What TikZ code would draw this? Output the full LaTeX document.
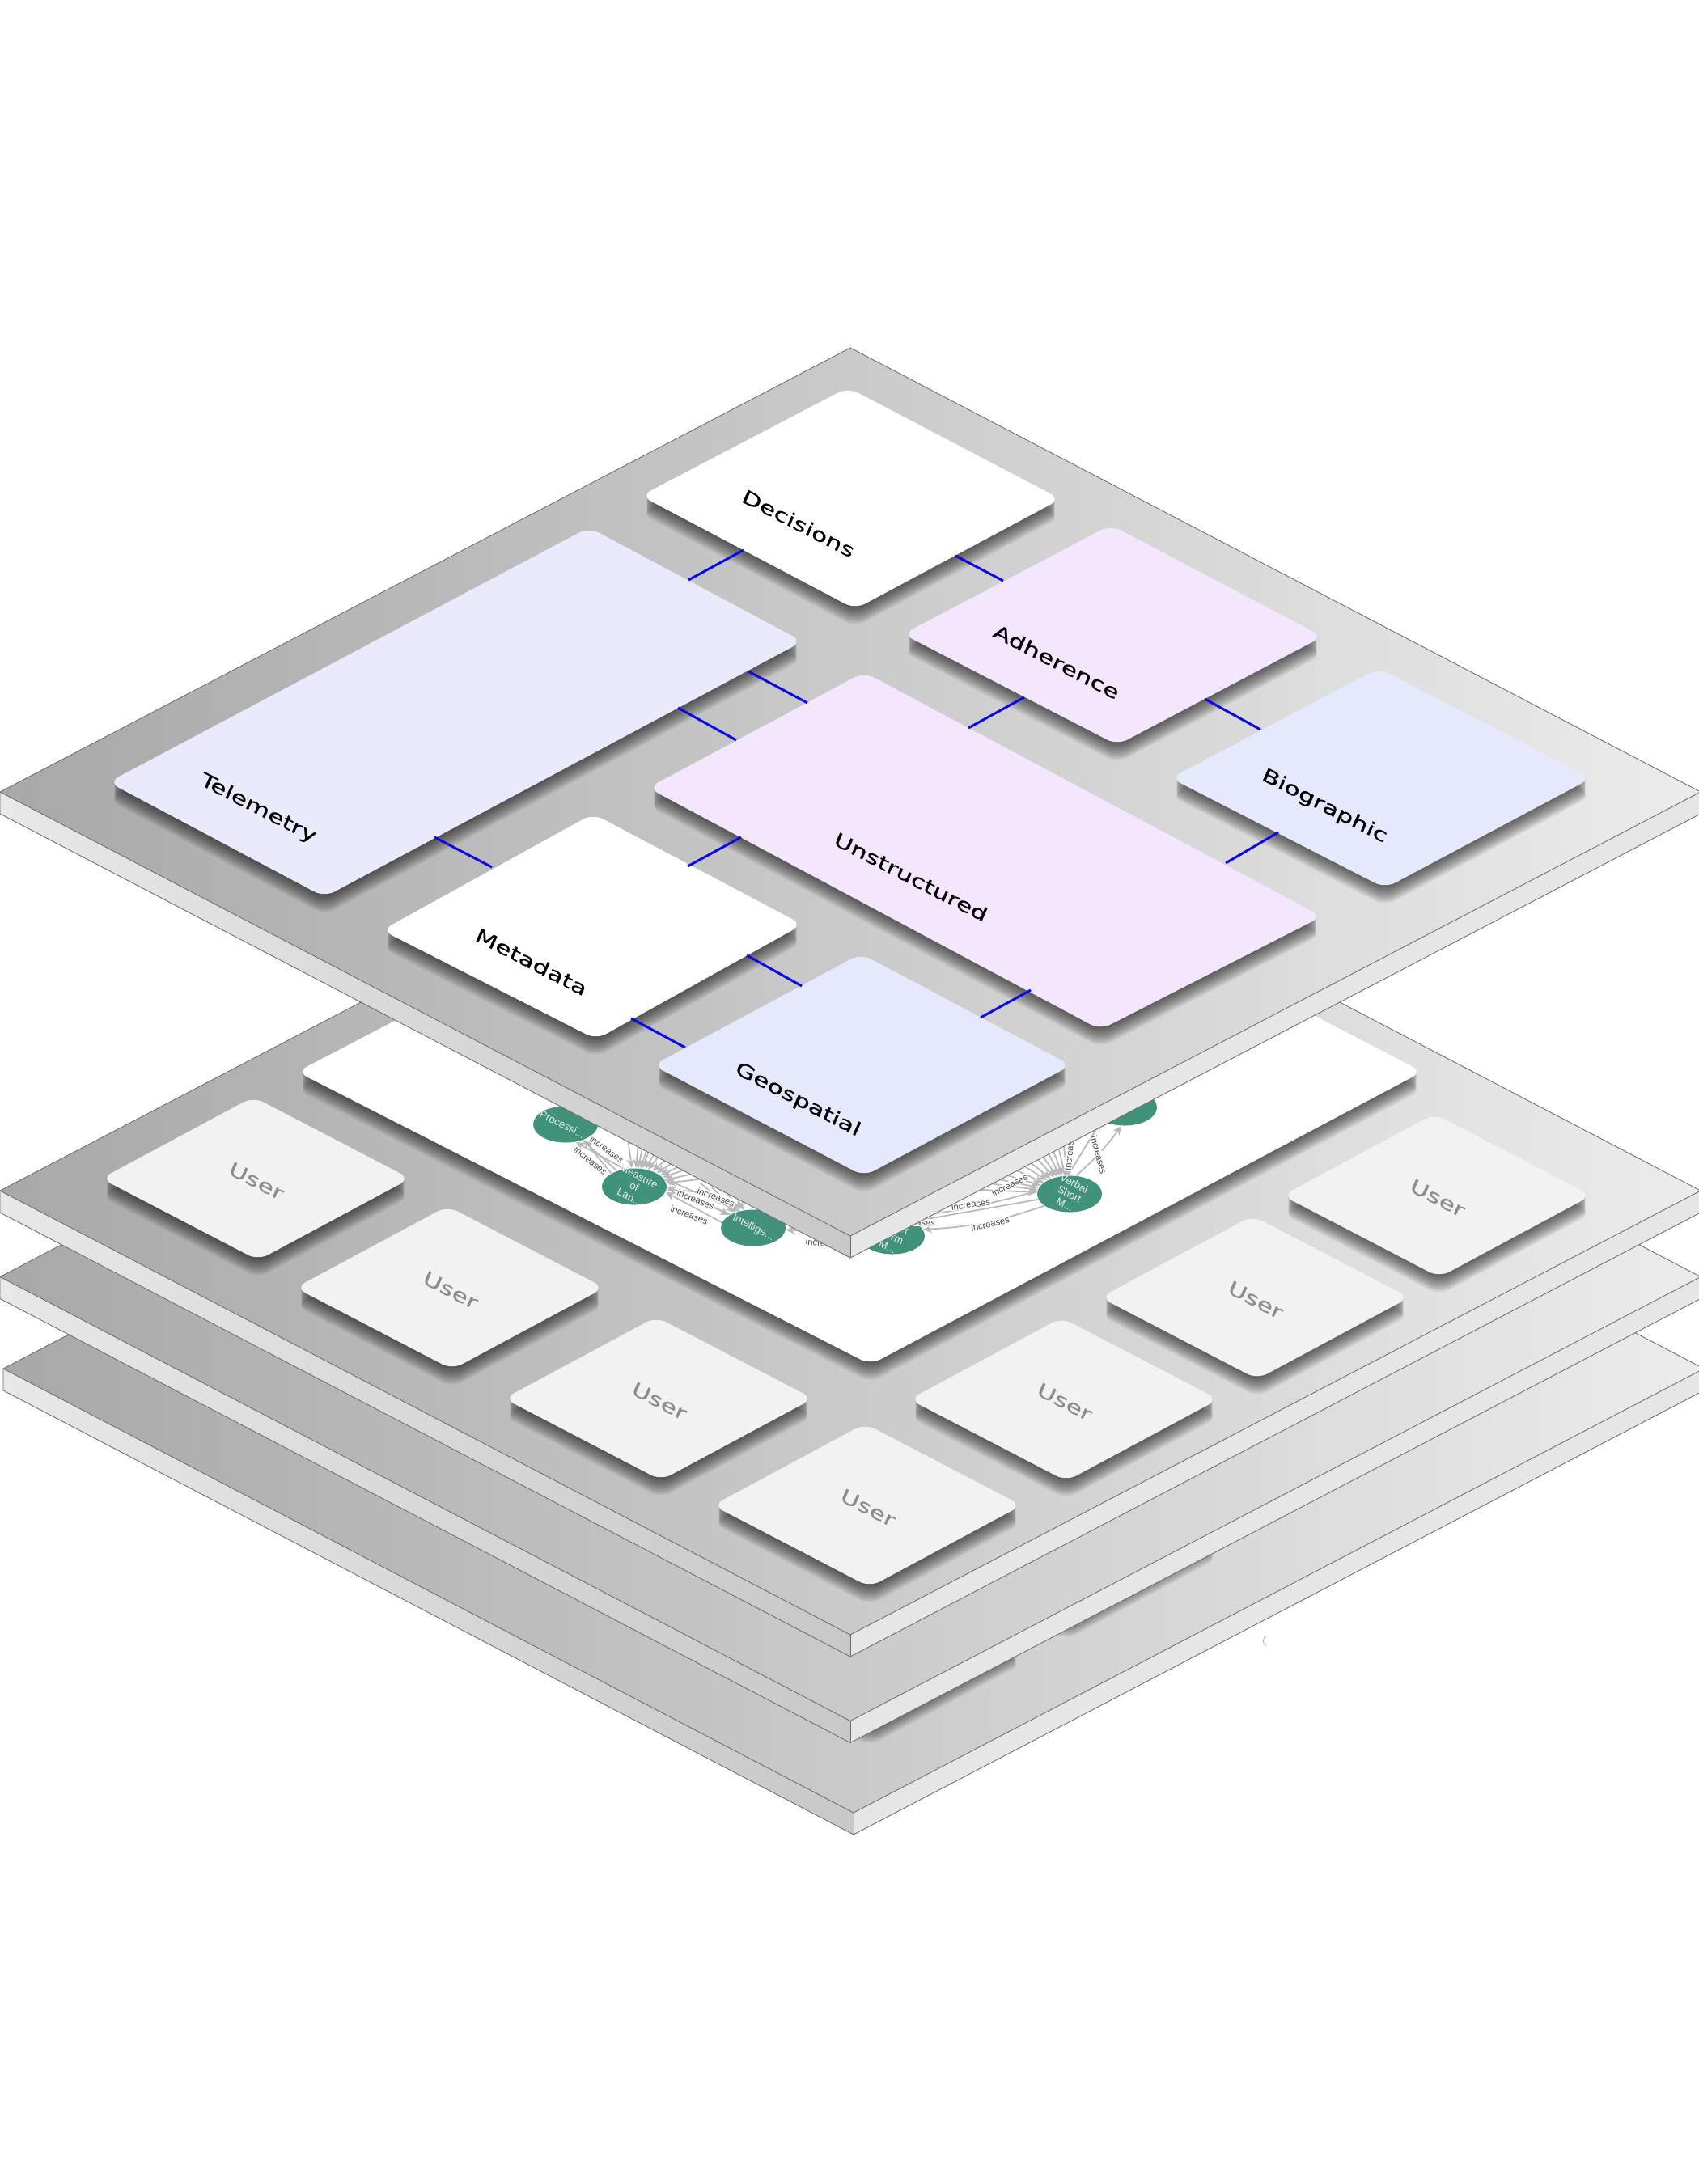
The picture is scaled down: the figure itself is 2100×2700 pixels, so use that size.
\documentclass[tikz,border=0pt]{standalone}
\usepackage{fontspec}
\usetikzlibrary{arrows.meta, shapes.geometric}
\newfontfamily\cardfont[FakeBold=0.35]{DejaVu Sans}
\newfontfamily\graphfont{Liberation Sans}
\definecolor{platedark}{RGB}{168, 168, 168}
\definecolor{platemid}{RGB}{190, 190, 190}
\definecolor{platelight}{RGB}{236, 236, 236}
\definecolor{edgeleft}{RGB}{232, 232, 232}
\definecolor{edgemid}{RGB}{200, 200, 200}
\definecolor{edgeright}{RGB}{230, 230, 230}
\definecolor{outline}{RGB}{110, 110, 110}
\definecolor{cardblue}{RGB}{230, 233, 252}
\definecolor{cardpale}{RGB}{233, 235, 253}
\definecolor{cardpurple}{RGB}{243, 230, 253}
\definecolor{cardgrey}{RGB}{242, 242, 242}
\definecolor{nodegreen}{RGB}{64, 146, 122}
\definecolor{linkblue}{RGB}{10, 10, 225}
\definecolor{arcgrey}{RGB}{185, 185, 185}
\tikzset{
  cardcorner/.style={rounded corners=1.4mm},
  cardshadow/.style={fill=black, opacity=0.065, cardcorner},
  cardlabel/.style={cm={1.25,-0.646,0.41,0.92,(0,0)}, font=\cardfont\fontsize{6.5}{7}\selectfont},
  userlabel/.style={cardlabel, text=black!45},
  linkline/.style={linkblue, line width=0.85pt},
  graphnode/.style={ellipse, fill=nodegreen, minimum width=0.8cm, minimum height=0.45cm, inner sep=0pt},
  graphtext/.style={cm={0.888,-0.459,0.41,0.92,(0,0)}, align=center, text=white!92!black, font=\graphfont\fontsize{3.7}{4}\selectfont},
  grapharc/.style={arcgrey, line width=0.5pt, -{Stealth[length=1.1mm,width=1mm]}},
  arclabel/.style={fill=white, inner sep=0.2pt, text=black!72, font=\graphfont\fontsize{3.2}{3.5}\selectfont}
}
% one plate: centre x, centre y
\newcommand{\slab}[2]{%
  \begin{scope}[shift={(#1,#2)}]
    \shade[left color=edgeleft, right color=edgemid] (-1051,0) -- (0,549) -- (0,576) -- (-1051,27) -- cycle;
    \fill[edgeright] (0,549) -- (1051,0) -- (1051,27) -- (0,576) -- cycle;
    \shade[left color=platedark, middle color=platemid, right color=platelight] (0,-549) -- (1051,0) -- (0,549) -- (-1051,0) -- cycle;
    \draw[outline, line width=0.25pt] (0,-549) -- (1051,0) -- (0,549) -- (-1051,0) -- cycle;
    \draw[outline, line width=0.25pt] (-1051,0) -- (-1051,27) -- (0,576) -- (1051,27) -- (1051,0);
    \draw[outline, line width=0.25pt] (0,549) -- (0,576);
  \end{scope}}
% one card: colour, top, right, bottom, left
\newcommand{\isocard}[5]{%
  \foreach \w in {2,4,...,22}
    \fill[cardshadow, shift={(0,\w)}] #2 -- #3 -- #4 -- #5 -- cycle;
  \fill[#1, cardcorner] #2 -- #3 -- #4 -- #5 -- cycle;}

\begin{document}
\begin{tikzpicture}[x=0.01cm, y=-0.01cm]
  \useasboundingbox (0,0) rectangle (2100,2700);
  \clip (0,0) rectangle (2100,2700);

  % bottom plate, its cards stay hidden apart from the shadow
  \slab{1055}{1692}
  \isocard{cardgrey}{(1069,1934)}{(1263,2035)}{(1075,2136)}{(881,2035)}
  \isocard{cardgrey}{(1312,1803)}{(1506,1904)}{(1318,2005)}{(1124,1904)}
  \draw[arcgrey, line width=0.25pt] (1565,2022) .. controls (1560,2026) and (1560,2031) .. (1565,2035);

  % third plate
  \slab{1051}{1578.5}

  % second plate
  \slab{1051}{1472}
  \isocard{white}{(1062,963)}{(1758,1325)}{(1076,1687)}{(367,1325)}

  % graph on the white card
  \node[graphnode] (processi) at (699,1390) {};
  \node[graphnode] (measure) at (784,1467) {};
  \node[graphnode] (intellige) at (931,1518) {};
  \node[graphnode] (shortterm) at (1103,1528) {};
  \node[graphnode] (verbal) at (1322,1476) {};
  \node[graphnode] (farnode) at (1390,1369) {};

  \foreach \i/\ex/\ey in {a/775/1400, b/790/1402, c/797/1405, d/805/1405, e/810/1405, f/820/1408, g/830/1410, h/845/1415, i/860/1420, j/872/1428, k/880/1435, l/885/1445, m/890/1455, n/880/1475}{
    \coordinate (fan-\i) at (\ex,\ey);
    \draw[grapharc] (fan-\i) -- (measure);
  }
  \foreach \i/\ex/\ey in {a/865/1462, b/880/1468, c/895/1470, d/905/1470, e/855/1478}{
    \coordinate (gan-\i) at (\ex,\ey);
    \draw[grapharc] (gan-\i) -- (intellige);
  }
  \foreach \i/\ex/\ey in {a/1322/1400, b/1313/1402, c/1305/1405, d/1297/1410, e/1290/1415, f/1282/1420, g/1275/1425, h/1265/1430, i/1255/1435, j/1245/1442, k/1235/1450, l/1225/1456, m/1215/1462, n/1195/1470}{
    \coordinate (han-\i) at (\ex,\ey);
    \draw[grapharc] (han-\i) -- (verbal);
  }
  \draw[grapharc] (measure) -- (processi);
  \draw[grapharc] (measure.120) -- (processi.-60);
  \draw[grapharc] (measure.150) -- (processi.-40);
  \draw[grapharc] (intellige.170) -- (measure.-10);
  \draw[grapharc] (intellige.150) -- (measure.0);
  \draw[grapharc] (intellige.130) -- (measure.15);
  \draw[grapharc] (shortterm) -- (intellige);
  \draw[grapharc] (verbal.-155) to[bend left=8] (shortterm.12);
  \draw[grapharc] (verbal.-170) -- (shortterm.35);
  \draw[grapharc] (verbal.175) to[bend left=4] (shortterm.60);
  \draw[grapharc] (verbal.70) to[bend right=6] (farnode.-100);
  \draw[grapharc] (verbal.95) -- (farnode.-150);

  \node[arclabel, rotate=-39] (lab-a) at (730,1435) {increases};
  \node[arclabel, rotate=-36] (lab-b) at (750,1421) {increases};
  \node[arclabel, rotate=-20] (lab-c) at (885,1480) {increases};
  \node[arclabel, rotate=-22] (lab-d) at (860,1483) {increases};
  \node[arclabel, rotate=-20] (lab-e) at (852,1502) {increases};
  \node[arclabel, rotate=-5] (lab-f) at (1020,1537) {increases};
  \node[arclabel, rotate=13] (lab-g) at (1224,1513) {increases};
  \node[arclabel, rotate=-3] (lab-h) at (1132,1511) {increases};
  \node[arclabel, rotate=8] (lab-i) at (1200,1489) {increases};
  \node[arclabel, rotate=27] (lab-j) at (1248,1465) {increases};
  \node[arclabel, rotate=-75] (lab-k) at (1358,1428) {increases};
  \node[arclabel, rotate=85] (lab-l) at (1322,1423) {increases};

  \node[graphtext] (text-processi) at (695,1390) {Processi...};
  \node[graphtext] (text-measure) at (784,1467) {Measure\\of\\Lan...};
  \node[graphtext] (text-intellige) at (931,1518) {Intellige...};
  \node[graphtext] (text-shortterm) at (1103,1528) {Short\\Term\\M...};
  \node[graphtext] (text-verbal) at (1322,1476) {Verbal\\Short\\M...};

  % user cards on the second plate
  \foreach \nm/\cx/\cy in {a/316/1457, b/556/1592, c/814/1729, d/1072/1861, e/1315/1730, f/1551/1604, g/1776/1478}{
    \isocard{cardgrey}{(\cx-3,\cy-101)}{(\cx+191,\cy)}{(\cx+3,\cy+101)}{(\cx-191,\cy)}
    \node[userlabel] (user-\nm) at (\cx+1,\cy+3) {User};
  }

  % top plate
  \slab{1051}{979}
  \isocard{white}{(1048,479)}{(1311,617)}{(1057,753)}{(792,613)}
  \isocard{cardpurple}{(1373,649)}{(1635,787)}{(1381,921)}{(1116,784)}
  \isocard{cardblue}{(1704,826)}{(1967,962)}{(1712,1098)}{(1447,962)}
  \isocard{cardpale}{(728,652)}{(992,793)}{(401,1109)}{(134,967)}
  \isocard{cardpurple}{(1068,831)}{(1634,1133)}{(1360,1273)}{(801,974)}
  \isocard{white}{(733,1006)}{(992,1143)}{(737,1285)}{(472,1150)}
  \isocard{cardblue}{(1064,1179)}{(1324,1317)}{(1068,1454)}{(807,1317)}

  \node[cardlabel] (decisions) at (987,647) {Decisions};
  \node[cardlabel] (adherence) at (1306,818) {Adherence};
  \node[cardlabel] (biographic) at (1637,997) {Biographic};
  \node[cardlabel] (telemetry) at (319,1000) {Telemetry};
  \node[cardlabel] (unstructured) at (1126,1084) {Unstructured};
  \node[cardlabel] (metadata) at (657,1189) {Metadata};
  \node[cardlabel] (geospatial) at (986,1360) {Geospatial};

  % links between the cards
  \coordinate (decisions-sw) at (919,680);
  \coordinate (telemetry-ne) at (851,717);
  \coordinate (decisions-se) at (1181,687);
  \coordinate (adherence-nw) at (1240,718);
  \coordinate (telemetry-se1) at (925,830);
  \coordinate (unstructured-nw1) at (998,869);
  \coordinate (telemetry-se2) at (838,875);
  \coordinate (unstructured-nw2) at (910,915);
  \coordinate (adherence-sw) at (1266,862);
  \coordinate (unstructured-ne1) at (1197,900);
  \coordinate (adherence-se) at (1489,864);
  \coordinate (biographic-nw) at (1558,902);
  \coordinate (biographic-sw) at (1580,1029);
  \coordinate (unstructured-ne2) at (1515,1067);
  \coordinate (telemetry-se3) at (537,1035);
  \coordinate (metadata-nw) at (608,1072);
  \coordinate (unstructured-sw) at (916,1035);
  \coordinate (metadata-ne) at (850,1071);
  \coordinate (metadata-se1) at (923,1181);
  \coordinate (geospatial-nw1) at (991,1219);
  \coordinate (metadata-se2) at (780,1259);
  \coordinate (geospatial-nw2) at (847,1295);
  \coordinate (unstructured-s) at (1274,1224);
  \coordinate (geospatial-ne) at (1212,1258);
  \draw[linkline] (decisions-sw) -- (telemetry-ne);
  \draw[linkline] (decisions-se) -- (adherence-nw);
  \draw[linkline] (telemetry-se1) -- (unstructured-nw1);
  \draw[linkline] (telemetry-se2) -- (unstructured-nw2);
  \draw[linkline] (adherence-sw) -- (unstructured-ne1);
  \draw[linkline] (adherence-se) -- (biographic-nw);
  \draw[linkline] (biographic-sw) -- (unstructured-ne2);
  \draw[linkline] (telemetry-se3) -- (metadata-nw);
  \draw[linkline] (unstructured-sw) -- (metadata-ne);
  \draw[linkline] (metadata-se1) -- (geospatial-nw1);
  \draw[linkline] (metadata-se2) -- (geospatial-nw2);
  \draw[linkline] (unstructured-s) -- (geospatial-ne);
\end{tikzpicture}
\end{document}
